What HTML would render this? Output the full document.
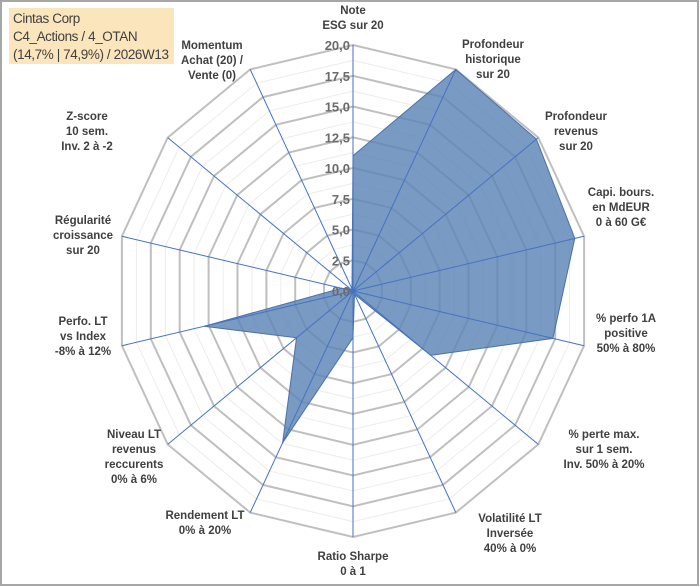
<!DOCTYPE html>
<html><head><meta charset="utf-8"><style>
body{margin:0;background:#fff;}
#wrap{position:relative;width:700px;height:587px;overflow:hidden;}
svg{position:absolute;left:0;top:0;}
.lbl{font-family:"Liberation Sans",sans-serif;font-size:11.5px;font-weight:bold;fill:#404040;text-anchor:middle;}
.tick{font-family:"Liberation Sans",sans-serif;font-size:13px;font-weight:bold;fill:#6b6b6b;text-anchor:end;}
.title{font-family:"Liberation Sans Narrow","Liberation Sans",sans-serif;font-size:13.5px;letter-spacing:-0.4px;fill:#404040;}
</style></head><body>
<div id="wrap">
<svg id="svg" width="700" height="587">
<rect x="1" y="1" width="697" height="584" fill="#fff" stroke="#a6a6a6" stroke-width="2"/>
<g id="grid"></g>
<g id="series"></g>
<g id="axes"></g>
<g id="ticks"></g>
<g id="labels"></g>
<rect x="9" y="8" width="165" height="56" fill="#fbe5bd"/>
<text class="title" x="13" y="23">Cintas Corp</text>
<text class="title" x="13" y="41">C4_Actions / 4_OTAN</text>
<text class="title" x="13" y="59">(14,7% | 74,9%) / 2026W13</text>
</svg>
</div>
<script>
const categories=[["Note","ESG sur 20"],["Profondeur","historique","sur 20"],["Profondeur","revenus","sur 20"],["Capi. bours.","en MdEUR","0 à 60 G€"],["% perfo 1A","positive","50% à 80%"],["% perte max.","sur 1 sem.","Inv. 50% à 20%"],["Volatilité LT","Inversée","40% à 0%"],["Ratio Sharpe","0 à 1"],["Rendement LT","0% à 20%"],["Niveau LT","revenus","reccurents","0% à 6%"],["Perfo. LT","vs Index","-8% à 12%"],["Régularité","croissance","sur 20"],["Z-score","10 sem.","Inv. 2 à -2"],["Momentum","Achat (20) /","Vente (0)"]];
const values=[11,20,19.8,19.2,17.3,8.4,0.3,3.8,13.7,6.1,12.9,1,0.2,0.2];
const tickLabels=["0,0","2,5","5,0","7,5","10,0","12,5","15,0","17,5","20,0"];
const labelPos=[[353,14],[493,48],[576,120],[621,196],[626,322],[604,438],[510,522],[353,560],[205,519],[134,438],[83,325],[83,224],[87,120],[212,49]];
const cx=353,cy=291,rx=237,ry=246,max=20,N=categories.length;
const NS="http://www.w3.org/2000/svg";
function ang(i){return 2*Math.PI*i/N;}
function px(i,v){return cx+Math.sin(ang(i))*rx*v/max;}
function py(i,v){return cy-Math.cos(ang(i))*ry*v/max;}
function mk(tag,attrs,parent){const e=document.createElementNS(NS,tag);for(const k in attrs)e.setAttribute(k,attrs[k]);document.getElementById(parent).appendChild(e);return e;}
for(let k=1;k<=16;k++){
  const v=k*1.25;let pts=[];
  for(let i=0;i<N;i++)pts.push(px(i,v).toFixed(1)+","+py(i,v).toFixed(1));
  const major=k%2===0;
  const g=mk("polygon",{points:pts.join(" "),fill:"none",stroke:major?"#bfbfbf":"#ececec","stroke-width":major?2:1},"grid");
  
  
}
let sp=[];
for(let i=0;i<N;i++)sp.push(px(i,values[i]).toFixed(1)+","+py(i,values[i]).toFixed(1));
const poly=mk("polygon",{points:sp.join(" "),fill:"#5b84b5","fill-opacity":0.82,stroke:"#4a72a8","stroke-width":1},"series");


for(let i=0;i<N;i++){
  const l=mk("line",{x1:cx,y1:cy,x2:px(i,max),y2:py(i,max),stroke:"#4472c4","stroke-width":1},"axes");
  
  
}
tickLabels.forEach((t,k)=>{
  const e=mk("text",{x:cx-3,y:cy-ry*(k*2.5)/max+5,class:"tick"},"ticks");
  e.textContent=t;
  
  
});
categories.forEach((lines,i)=>{
  const [x,y]=labelPos[i];
  lines.forEach((s,j)=>{
    const e=mk("text",{x:x,y:y+j*15,class:"lbl"},"labels");
    e.textContent=s;
    
    
  });
});
</script>
</body></html>
